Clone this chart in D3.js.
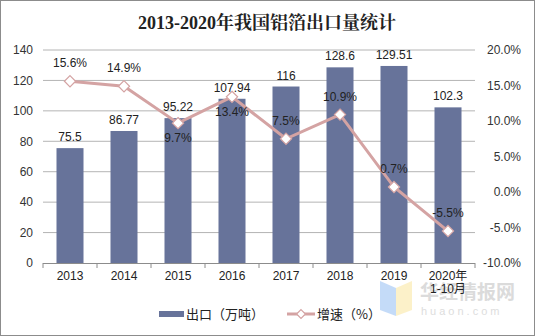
<!DOCTYPE html>
<html><head><meta charset="utf-8">
<script src="https://cdn.jsdelivr.net/npm/d3@7"></script>
<style>body{margin:0;background:#fff}svg{display:block}</style>
</head><body>
<svg id="c" width="535" height="336"></svg>
<script>
const categories = ["2013","2014","2015","2016","2017","2018","2019","2020年\n1-10月"];
const exportVals = [75.5, 86.77, 95.22, 107.94, 116, 128.6, 129.51, 102.3];
const growthVals = [15.6, 14.9, 9.7, 13.4, 7.5, 10.9, 0.7, -5.5];
const growthLabelPos = ["up","up","down","down","up","up","up","up"];
const leftTicks = [0,20,40,60,80,100,120,140];
const rightTicks = [-10,-5,0,5,10,15,20];

const svg = d3.select("#c");
const W=535,H=336;
svg.append("rect").attr("x",0.5).attr("y",0.5).attr("width",W-1).attr("height",H-1)
  .attr("fill","#fff").attr("stroke","#8c8c8c");

const L=43,R=475,T=50,B=263;
const x = d3.scaleBand().domain(categories).range([L,R]).paddingInner(0.5).paddingOuter(0.25);
const xb = d3.scaleBand().domain(categories).range([L,R]);
const yL = d3.scaleLinear().domain([0,140]).range([B,T]);
const yR = d3.scaleLinear().domain([-10,20]).range([B,T]);
const font = "'Liberation Sans', Arial, 'Noto Sans CJK SC', sans-serif";

// watermark (behind labels)
const wm = svg.append("g").attr("opacity",0.6);
wm.append("path").attr("d","M380,281 L396,288 L396,316 L380,310 Z").attr("fill","#9ec4f5");
wm.append("path").attr("d","M396,288 L412,281 L412,310 L396,316 Z").attr("fill","#fbe9a6");
wm.append("text").attr("x",420).attr("y",299).attr("font-family","'Noto Sans CJK SC',sans-serif")
  .attr("font-size",19).attr("font-weight","bold").attr("fill","#c4c4c4").text("华经情报网");
wm.append("text").attr("x",421).attr("y",315).attr("font-family",font)
  .attr("font-size",11).attr("letter-spacing",3).attr("fill","#c8c8c8").text("huaon.com");

svg.append("text").attr("x",267).attr("y",29).attr("text-anchor","middle")
  .attr("font-family","'Liberation Serif','Noto Serif CJK SC','Noto Sans CJK SC',serif")
  .attr("font-weight","bold").attr("font-size",18).attr("fill","#222")
  .text("2013-2020年我国铝箔出口量统计");

// gridlines
svg.append("g").selectAll("line").data(leftTicks.filter(d=>d>0)).join("line")
  .attr("x1",L).attr("x2",R).attr("y1",d=>yL(d)).attr("y2",d=>yL(d))
  .attr("stroke","#b4b4b4").attr("stroke-width",1);

// left axis
const gl = svg.append("g").attr("transform",`translate(${L},0)`)
  .call(d3.axisLeft(yL).tickValues(leftTicks).tickSize(0).tickPadding(10));
gl.select(".domain").remove();
gl.selectAll("text").attr("font-family",font).attr("font-size",12).attr("fill","#333");

// right axis
const gr = svg.append("g").attr("transform",`translate(${R},0)`)
  .call(d3.axisRight(yR).tickValues(rightTicks).tickSize(0).tickPadding(46).tickFormat(d=>d.toFixed(1)+"%"));
gr.select(".domain").remove();
gr.selectAll("text").attr("font-family",font).attr("font-size",12).attr("fill","#333").attr("text-anchor","end");

// bars
svg.append("g").selectAll("rect").data(exportVals).join("rect")
  .attr("x",(d,i)=>x(categories[i])).attr("width",x.bandwidth())
  .attr("y",d=>yL(d)).attr("height",d=>B-yL(d)).attr("fill","#67739a");

// x axis
svg.append("line").attr("x1",L).attr("x2",R).attr("y1",B+0.5).attr("y2",B+0.5).attr("stroke","#8c8c8c");
svg.append("g").selectAll("line").data(d3.range(categories.length+1)).join("line")
  .attr("x1",i=>L+i*xb.bandwidth()).attr("x2",i=>L+i*xb.bandwidth())
  .attr("y1",B).attr("y2",B+5).attr("stroke","#8c8c8c");
const xl = svg.append("g").selectAll("text").data(categories).join("text")
  .attr("x",d=>xb(d)+xb.bandwidth()/2).attr("y",280).attr("text-anchor","middle")
  .attr("font-family",font).attr("font-size",12).attr("fill","#222");
xl.each(function(d){
  const parts=d.split("\n");
  d3.select(this).selectAll("tspan").data(parts).join("tspan")
    .attr("x",xb(d)+xb.bandwidth()/2).attr("dy",(p,j)=>j?13:0).text(p=>p);
});

// bar labels
svg.append("g").selectAll("text").data(exportVals).join("text")
  .attr("x",(d,i)=>xb(categories[i])+xb.bandwidth()/2).attr("y",d=>yL(d)-7)
  .attr("text-anchor","middle").attr("font-family",font).attr("font-size",12).attr("fill","#222")
  .text(d=>d);

// line
const cx = i=>xb(categories[i])+xb.bandwidth()/2;
svg.append("path").datum(growthVals)
  .attr("d",d3.line().x((d,i)=>cx(i)).y(d=>yR(d)))
  .attr("fill","none").attr("stroke","#d4a3a3").attr("stroke-width",3);
svg.append("g").selectAll("path").data(growthVals).join("path")
  .attr("d",d3.symbol(d3.symbolDiamond2,80)())
  .attr("transform",(d,i)=>`translate(${cx(i)},${yR(d)})`)
  .attr("fill","#fff").attr("stroke","#d4a3a3").attr("stroke-width",1.2);
svg.append("g").selectAll("text").data(growthVals).join("text")
  .attr("x",(d,i)=>cx(i)).attr("y",(d,i)=>growthLabelPos[i]==="up"?yR(d)-14:yR(d)+19)
  .attr("text-anchor","middle").attr("font-family",font).attr("font-size",12).attr("fill","#222")
  .text(d=>d.toFixed(1)+"%");

// legend
const lg = svg.append("g");
lg.append("rect").attr("x",159).attr("y",311).attr("width",25).attr("height",6).attr("fill","#67739a");
lg.append("text").attr("x",186).attr("y",319).attr("font-family","'Noto Sans CJK SC',sans-serif").attr("font-size",13).attr("fill","#222").text("出口（万吨）");
lg.append("line").attr("x1",287).attr("x2",315).attr("y1",314).attr("y2",314).attr("stroke","#d4a3a3").attr("stroke-width",3);
lg.append("path").attr("d",d3.symbol(d3.symbolDiamond2,50)()).attr("transform","translate(301,314)")
  .attr("fill","#fff").attr("stroke","#d4a3a3").attr("stroke-width",1.2);
lg.append("text").attr("x",317).attr("y",319).attr("font-family","'Noto Sans CJK SC',sans-serif").attr("font-size",13).attr("fill","#222").text("增速（%）");
</script>
</body></html>
